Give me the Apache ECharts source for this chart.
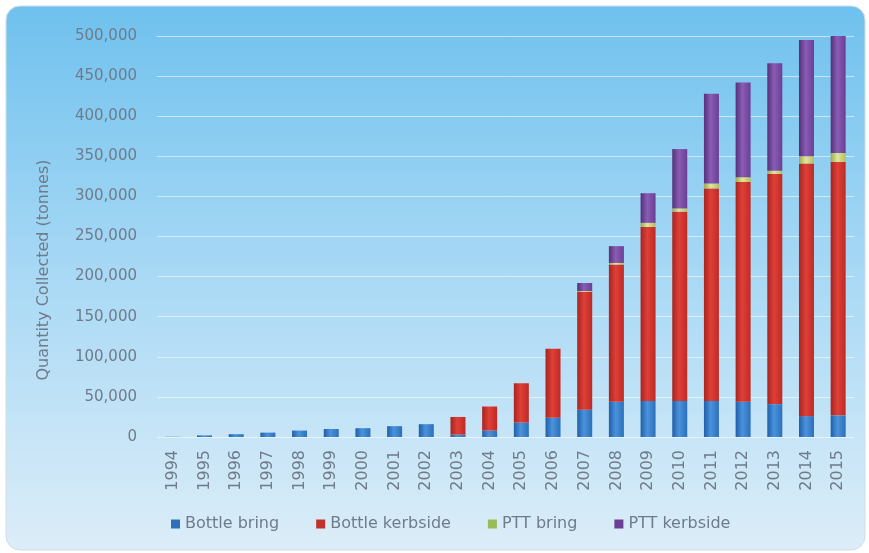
<!DOCTYPE html>
<html>
<head>
<meta charset="utf-8">
<script src="https://cdn.jsdelivr.net/npm/echarts@6/dist/echarts.min.js"></script>
<style>
html,body{margin:0;padding:0;background:#ffffff;}
#chart{width:869px;height:553px;}
</style>
</head>
<body>
<div id="chart"></div>
<script>
const years = ['1994','1995','1996','1997','1998','1999','2000','2001','2002','2003','2004','2005','2006','2007','2008','2009','2010','2011','2012','2013','2014','2015'];
const bottleBring    = [300, 2000, 3500, 5500, 8000, 10000, 11000, 13500, 16000, 3000, 8000, 18000, 24000, 34000, 44000, 45000, 45000, 45000, 44000, 41000, 26000, 27000];
const bottleKerbside = [0, 0, 0, 0, 0, 0, 0, 0, 0, 22000, 30000, 49000, 86000, 147000, 171000, 217000, 236000, 265000, 274000, 287000, 315000, 316000];
const pttBring       = [0, 0, 0, 0, 0, 0, 0, 0, 0, 0, 0, 0, 0, 1000, 2000, 5000, 4000, 6000, 6000, 4000, 9000, 11000];
const pttKerbside    = [0, 0, 0, 0, 0, 0, 0, 0, 0, 0, 0, 0, 0, 10000, 21000, 37000, 74000, 112000, 118000, 134000, 145000, 147000];
const seriesNames = ['Bottle bring', 'Bottle kerbside', 'PTT bring', 'PTT kerbside'];
const yTitle = 'Quantity Collected (tonnes)';
const yTicks = {min: 0, max: 500000, interval: 50000};

function barGrad(dark, mid, light) {
  return new echarts.graphic.LinearGradient(0, 0, 1, 0, [
    {offset: 0, color: dark},
    {offset: 0.45, color: light},
    {offset: 1, color: mid}
  ]);
}
const colors = [
  barGrad('#1f5fa8', '#2c6fba', '#4a93dc'),
  barGrad('#a8231f', '#c02a24', '#de4038'),
  barGrad('#9aa84a', '#b2bf5e', '#e4e59a'),
  barGrad('#553078', '#6a3f93', '#8a5cb5')
];
const legendColors = ['#2f6fb8', '#c0322b', '#9bbb59', '#6b3f94'];
const FONT = 'DejaVu Sans';
const TXT = '#6f7b8a';

const chart = echarts.init(document.getElementById('chart'), null, {renderer: 'canvas'});
const dataSets = [bottleBring, bottleKerbside, pttBring, pttKerbside];

chart.setOption({
  animation: false,
  backgroundColor: '#ffffff',
  graphic: [{
    type: 'rect',
    z: -10,
    silent: true,
    shape: {x: 6, y: 6, width: 859, height: 544, r: 14},
    style: {
      fill: new echarts.graphic.LinearGradient(0, 0, 0, 1, [
        {offset: 0, color: '#6fc1ee'},
        {offset: 0.5, color: '#a9d9f5'},
        {offset: 1, color: '#dcedf8'}
      ]),
      stroke: '#d0dde6',
      lineWidth: 1
    }
  }, {
    type: 'text',
    x: 44,
    y: 270,
    rotation: Math.PI / 2,
    silent: true,
    style: {
      text: yTitle,
      fill: TXT,
      font: '16px "' + FONT + '"',
      align: 'center',
      verticalAlign: 'middle'
    }
  }],
  legend: {
    data: seriesNames.map((n, i) => ({name: n, itemStyle: {color: legendColors[i]}})),
    left: 166,
    top: 511,
    itemWidth: 9,
    itemHeight: 9,
    itemGap: 37,
    icon: 'rect',
    textStyle: {color: TXT, fontSize: 16, fontFamily: FONT}
  },
  grid: {left: 157, right: 15, top: 36, bottom: 116, containLabel: false},
  xAxis: {
    type: 'category',
    data: years,
    axisLine: {show: false},
    axisTick: {show: false},
    axisLabel: {rotate: 90, color: TXT, fontSize: 16, fontFamily: FONT, margin: 13}
  },
  yAxis: {
    type: 'value',
    min: yTicks.min,
    max: yTicks.max,
    interval: yTicks.interval,
    axisLine: {show: false},
    axisTick: {show: false},
    axisLabel: {
      color: TXT, fontSize: 15, fontFamily: FONT, margin: 20,
      formatter: v => v.toLocaleString('en-US')
    },
    splitLine: {lineStyle: {color: 'rgba(255,255,255,0.55)', width: 1}}
  },
  series: seriesNames.map((n, i) => ({
    name: n,
    type: 'bar',
    stack: 'total',
    barWidth: 15,
    data: dataSets[i],
    itemStyle: {color: colors[i]}
  }))
});
</script>
</body>
</html>
